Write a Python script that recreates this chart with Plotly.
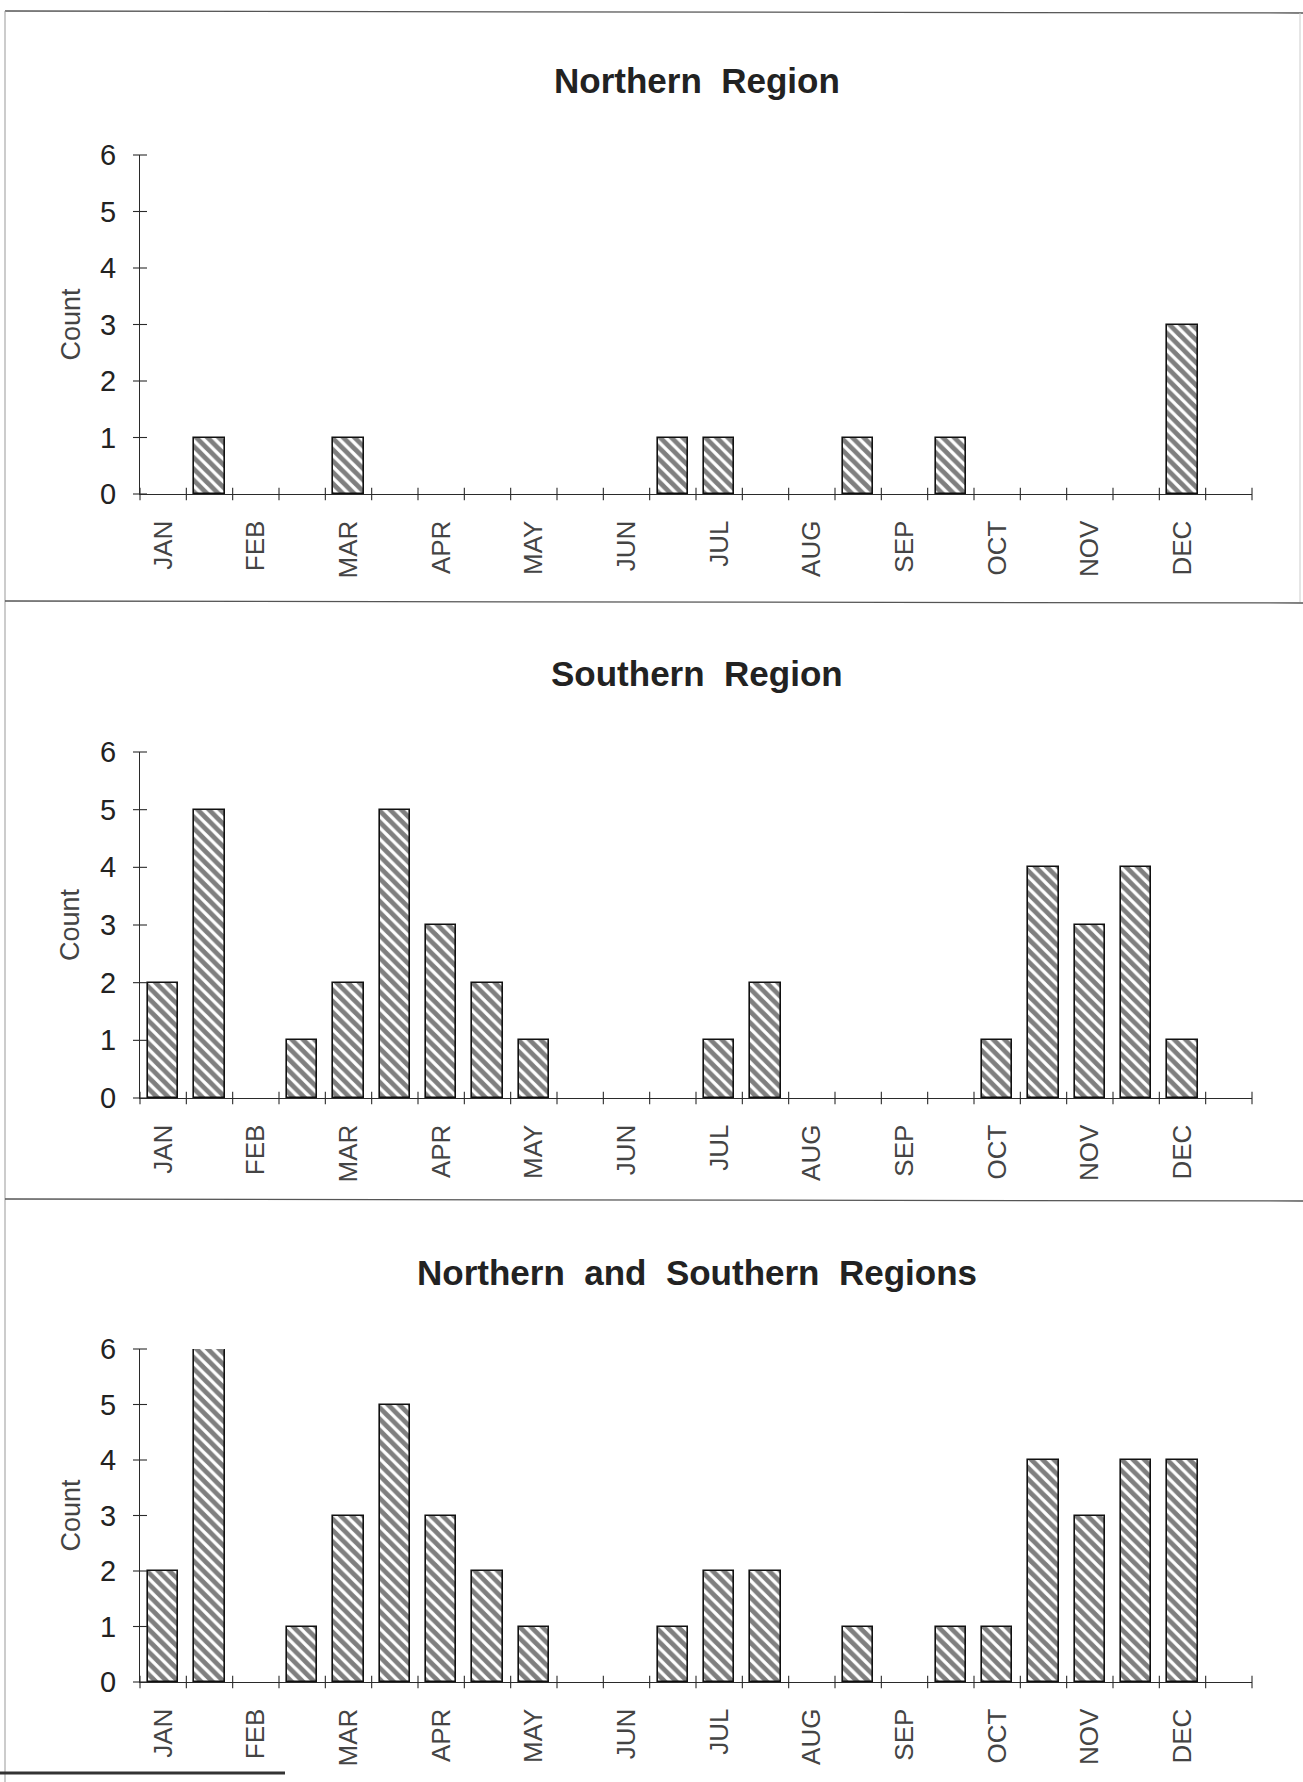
import plotly.graph_objects as go

# ---- data ----
months = ["JAN", "FEB", "MAR", "APR", "MAY", "JUN",
          "JUL", "AUG", "SEP", "OCT", "NOV", "DEC"]
# 24 half-month slots (slot 2k = first half of month k)
slots = list(range(24))
north = [0, 1, 0, 0, 1, 0, 0, 0, 0, 0, 0, 1, 1, 0, 0, 1, 0, 1, 0, 0, 0, 0, 3, 0]
south = [2, 5, 0, 1, 2, 5, 3, 2, 1, 0, 0, 0, 1, 2, 0, 0, 0, 0, 1, 4, 3, 4, 1, 0]
both = [2, 6, 0, 1, 3, 5, 3, 2, 1, 0, 0, 1, 2, 2, 0, 1, 0, 1, 1, 4, 3, 4, 4, 0]
titles = ["Northern  Region", "Southern  Region",
          "Northern  and  Southern  Regions"]
y_ticks = [0, 1, 2, 3, 4, 5, 6]

W, H = 1303, 1782
# panel geometry in pixels (top of y=6, bottom y=0)
panels = [(155, 494), (752, 1098), (1349, 1682)]
title_y = [80, 673, 1272]
x_left, x_right = 140, 1252

fig = go.Figure()
series = [north, south, both]
axis_col = "#2a2a2a"
for i, vals in enumerate(series):
    n = "" if i == 0 else str(i + 1)
    xa, ya = "x" + n, "y" + n
    fig.add_trace(go.Bar(
        x=slots, y=[v if v else None for v in vals], xaxis=xa, yaxis=ya, width=0.65,
        marker=dict(color="white", line=dict(color="#111", width=1.6),
                    pattern=dict(shape="\\", fgcolor="#000", bgcolor="white",
                                 size=8, solidity=0.6)),
        showlegend=False))
    # crossing tick marks on x axis (slot boundaries)
    bnd = [s - 0.5 for s in slots] + [slots[-1] + 0.5]
    fig.add_trace(go.Scatter(
        x=bnd, y=[0] * len(bnd), xaxis=xa, yaxis=ya, mode="markers",
        marker=dict(symbol="line-ns", size=9, line=dict(color=axis_col, width=1.1)),
        cliponaxis=False, showlegend=False, hoverinfo="skip"))
    # crossing tick marks on y axis
    fig.add_trace(go.Scatter(
        x=[bnd[0]] * len(y_ticks), y=y_ticks, xaxis=xa, yaxis=ya, mode="markers",
        marker=dict(symbol="line-ew", size=10, line=dict(color=axis_col, width=1.1)),
        cliponaxis=False, showlegend=False, hoverinfo="skip"))

    top, bot = panels[i]
    xkey = "xaxis" + n
    ykey = "yaxis" + n
    fig.layout[xkey] = dict(
        domain=[x_left / W, x_right / W], anchor=ya, automargin=False,
        range=[-0.5, 23.5], tickmode="array",
        tickvals=[s for s in slots if s % 2 == 0], ticktext=months,
        tickangle=-90, ticks="", ticklabelstandoff=15,
        tickfont=dict(family="Liberation Sans, Arial", size=26, color="#444"),
        showline=True, linecolor=axis_col, linewidth=1.4,
        showgrid=False, zeroline=False, fixedrange=True)
    fig.layout[ykey] = dict(
        domain=[1 - bot / H, 1 - top / H], anchor=xa, automargin=False,
        range=[0, 6], tickmode="array", tickvals=y_ticks,
        ticks="", ticklabelstandoff=17,
        tickfont=dict(family="Liberation Sans, Arial", size=29, color="#222"),
        showline=True, linecolor=axis_col, linewidth=1.2,
        showgrid=False, zeroline=False, fixedrange=True)
    fig.add_annotation(
        text="<b>" + titles[i] + "</b>", xref="paper", yref="paper",
        x=697 / W, y=1 - title_y[i] / H, showarrow=False,
        font=dict(family="Liberation Sans, Arial", size=35, color="#222"),
        xanchor="center", yanchor="middle")
    fig.add_annotation(
        text="Count", xref="paper", yref="paper", textangle=-90,
        x=70 / W, y=1 - (top + bot) / 2 / H, showarrow=False,
        font=dict(family="Liberation Sans, Arial", size=27, color="#444"),
        xanchor="center", yanchor="middle")

# page frame and separators
frame = dict(color="#555", width=1.3)
shapes = [
    dict(type="line", xref="paper", yref="paper", x0=5 / W, x1=1, y0=1 - 11 / H, y1=1 - 13 / H, line=frame),
    dict(type="line", xref="paper", yref="paper", x0=5 / W, x1=5 / W, y0=1 - 11 / H, y1=0, line=dict(color="#999", width=1)),
    dict(type="line", xref="paper", yref="paper", x0=1300 / W, x1=1300 / W, y0=1 - 13 / H, y1=1 - 602 / H, line=dict(color="#ccc", width=1)),
    dict(type="line", xref="paper", yref="paper", x0=5 / W, x1=1, y0=1 - 601 / H, y1=1 - 603 / H, line=frame),
    dict(type="line", xref="paper", yref="paper", x0=5 / W, x1=1, y0=1 - 1199 / H, y1=1 - 1201 / H, line=frame),
    dict(type="line", xref="paper", yref="paper", x0=0, x1=285 / W, y0=1 - 1773 / H, y1=1 - 1773 / H, line=dict(color="#333", width=3)),
]
fig.update_layout(
    width=W, height=H, autosize=False,
    margin=dict(l=0, r=0, t=0, b=0, autoexpand=False),
    paper_bgcolor="white", plot_bgcolor="white",
    shapes=shapes, bargap=0,
)

fig.write_html("out.html", config={"displayModeBar": False},
               post_script="document.body.style.margin='0';")
